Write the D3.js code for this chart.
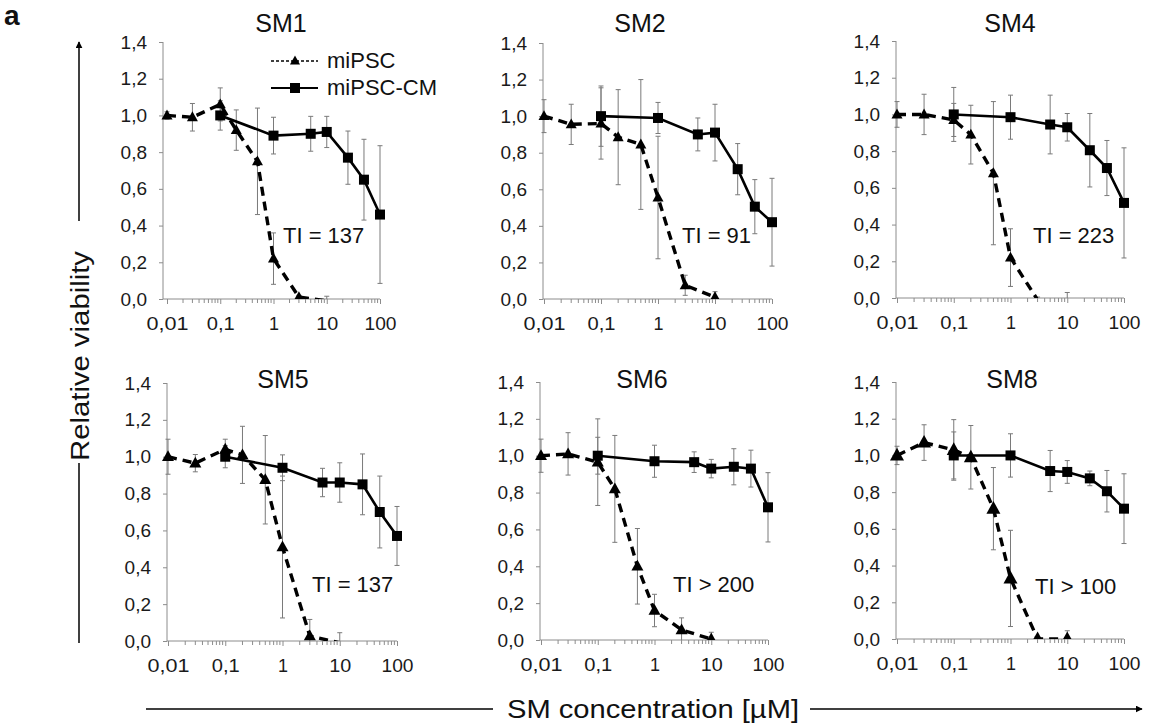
<!DOCTYPE html>
<html><head><meta charset="utf-8">
<script src="https://cdn.jsdelivr.net/npm/d3@7"></script>
<style>body{margin:0;background:#fff;} svg{display:block;font-family:"Liberation Sans",Arial,sans-serif;}</style>
</head><body><svg id="c" width="1153" height="725"></svg>
<script>
// ---------- DATA ----------
const concIpsc = [0.01, 0.03, 0.1, 0.2, 0.5, 1, 3, 10];   // miPSC concentrations (µM)
const concCm   = [0.1, 1, 5, 10, 25, 50, 100];            // miPSC-CM concentrations (µM)
const panelNames = ["SM1", "SM2", "SM4", "SM5", "SM6", "SM8"];
const tiLabels   = ["TI = 137", "TI = 91", "TI = 223", "TI = 137", "TI > 200", "TI > 100"];
const seriesNames = ["miPSC", "miPSC-CM"];

const sm1Ipsc    = [1.00, 0.99, 1.06, 0.92, 0.75, 0.22, 0.01, -0.01];
const sm1IpscErr = [0.02, 0.075, 0.09, 0.11, 0.29, 0.14, 0.01, 0.025];
const sm1Cm      = [1.00, 0.89, 0.90, 0.91, 0.77, 0.65, 0.46];
const sm1CmErr   = [0.08, 0.10, 0.095, 0.085, 0.145, 0.22, 0.375];

const sm2Ipsc    = [1.00, 0.955, 0.96, 0.885, 0.845, 0.555, 0.075, 0.01];
const sm2IpscErr = [0.09, 0.11, 0.195, 0.26, 0.355, 0.335, 0.055, 0.03];
const sm2Cm      = [1.00, 0.99, 0.90, 0.91, 0.71, 0.505, 0.42];
const sm2CmErr   = [0.165, 0.085, 0.09, 0.155, 0.14, 0.148, 0.24];

const sm4Ipsc    = [1.00, 1.00, 0.97, 0.89, 0.68, 0.22, -0.01, -0.02];
const sm4IpscErr = [0.07, 0.11, 0.09, 0.16, 0.39, 0.157, 0.015, 0.05];
const sm4Cm      = [1.00, 0.985, 0.945, 0.93, 0.805, 0.708, 0.518];
const sm4CmErr   = [0.147, 0.12, 0.16, 0.075, 0.2, 0.15, 0.3];

const sm5Ipsc    = [1.00, 0.965, 1.04, 1.01, 0.875, 0.51, 0.027, -0.01];
const sm5IpscErr = [0.095, 0.047, 0.055, 0.155, 0.24, 0.385, 0.09, 0.055];
const sm5Cm      = [1.00, 0.94, 0.86, 0.86, 0.85, 0.70, 0.57];
const sm5CmErr   = [0.06, 0.07, 0.077, 0.107, 0.165, 0.195, 0.16];

const sm6Ipsc    = [1.00, 1.01, 0.965, 0.82, 0.40, 0.16, 0.055, 0.005];
const sm6IpscErr = [0.09, 0.115, 0.235, 0.29, 0.205, 0.088, 0.065, 0.037];
const sm6Cm      = [1.00, 0.97, 0.965, 0.93, 0.94, 0.93, 0.72];
const sm6CmErr   = [0.10, 0.087, 0.056, 0.05, 0.098, 0.10, 0.188];

const sm8Ipsc    = [1.00, 1.07, 1.03, 0.99, 0.71, 0.33, 0.0, 0.0];
const sm8IpscErr = [0.05, 0.097, 0.165, 0.173, 0.224, 0.262, 0.005, 0.045];
const sm8Cm      = [1.00, 1.00, 0.915, 0.91, 0.875, 0.805, 0.71];
const sm8CmErr   = [0.128, 0.118, 0.112, 0.062, 0.04, 0.113, 0.19];

const yTicks      = [0, 0.2, 0.4, 0.6, 0.8, 1.0, 1.2, 1.4];
const yTickLabels = ["0,0", "0,2", "0,4", "0,6", "0,8", "1,0", "1,2", "1,4"];
const xTicks      = [0.01, 0.1, 1, 10, 100];
const xTickLabels = ["0,01", "0,1", "1", "10", "100"];

const ipscSets = [sm1Ipsc, sm2Ipsc, sm4Ipsc, sm5Ipsc, sm6Ipsc, sm8Ipsc];
const ipscErrs = [sm1IpscErr, sm2IpscErr, sm4IpscErr, sm5IpscErr, sm6IpscErr, sm8IpscErr];
const cmSets   = [sm1Cm, sm2Cm, sm4Cm, sm5Cm, sm6Cm, sm8Cm];
const cmErrs   = [sm1CmErr, sm2CmErr, sm4CmErr, sm5CmErr, sm6CmErr, sm8CmErr];

// ---------- LAYOUT ----------
const layout = [
  {x0:167, x1:380, yTop:42, yBot:299, axisOff:4, titleX:281, titleY:32, tiX:283, tiY:243, tri:11},
  {x0:544, x1:772, yTop:43, yBot:299, axisOff:1, titleX:640, titleY:32, tiX:682, tiY:243, tri:11},
  {x0:897, x1:1124, yTop:41, yBot:298, axisOff:1, titleX:1010, titleY:32, tiX:1033, tiY:243, tri:11},
  {x0:168, x1:397, yTop:383, yBot:641, axisOff:1, titleX:283, titleY:388, tiX:312, tiY:592, tri:12},
  {x0:541, x1:768, yTop:382, yBot:640, axisOff:1, titleX:642, titleY:388, tiX:673, tiY:592, tri:12},
  {x0:897, x1:1124, yTop:382, yBot:639, axisOff:1, titleX:1012, titleY:388, tiX:1035, tiY:594, tri:14}
];

const svg = d3.select("#c");
const axisCol = "#8c8c8c", errCol = "#7a7a7a";
const FONT = "Liberation Sans, Arial, sans-serif";

function triPath(s){ const h = s*0.9; return `M0,${-h*0.6}L${s/2},${h*0.4}L${-s/2},${h*0.4}Z`; }

panelNames.forEach((name, i) => {
  const L = layout[i];
  const x = d3.scaleLog().domain([0.01, 100]).range([L.x0, L.x1]);
  const y = d3.scaleLinear().domain([0, 1.4]).range([L.yBot, L.yTop]);
  const g = svg.append("g");
  const axX = L.x0 - L.axisOff;

  const cid = "clip" + i;
  svg.append("clipPath").attr("id", cid).append("rect")
    .attr("x", L.x0 - 30).attr("y", L.yTop - 60).attr("width", L.x1 - L.x0 + 60).attr("height", L.yBot - L.yTop + 60);

  // y axis
  const yAxis = d3.axisLeft(y).tickValues(yTicks).tickFormat((d, k) => yTickLabels[k]).tickSize(4).tickPadding(12);
  const ya = g.append("g").attr("transform", `translate(${axX},0)`).call(yAxis);
  ya.select(".domain").attr("stroke", axisCol).attr("d", `M0,${L.yTop}V${L.yBot}`);
  ya.selectAll(".tick line").attr("stroke", axisCol);
  ya.selectAll(".tick text").attr("font-size", 19).attr("fill", "#1a1a1a").attr("font-family", FONT);

  // x axis with minor ticks
  const minors = [];
  for (let dec = 0.01; dec < 100; dec *= 10) for (let m = 2; m <= 9; m++) minors.push(dec * m);
  const xa = g.append("g").attr("transform", `translate(0,${L.yBot})`);
  xa.append("path").attr("d", `M${axX},0H${L.x1}`).attr("stroke", axisCol).attr("fill", "none");
  xa.selectAll("line.minor").data(minors).join("line").attr("class", "minor")
    .attr("x1", d => x(d)).attr("x2", d => x(d)).attr("y1", 0).attr("y2", 4).attr("stroke", axisCol);
  const xAxis = d3.axisBottom(x).tickValues(xTicks).tickFormat((d, k) => xTickLabels[k]).tickSize(5).tickPadding(13);
  const xg = xa.append("g").call(xAxis);
  xg.select(".domain").remove();
  xg.selectAll(".tick line").attr("stroke", axisCol);
  xg.selectAll(".tick text").attr("font-size", 19).attr("fill", "#1a1a1a").attr("font-family", FONT)
    .attr("textLength", (d, k) => [42, 28, 10, 22, 32][k]).attr("lengthAdjust", "spacingAndGlyphs");

  // title
  g.append("text").attr("x", L.titleX).attr("y", L.titleY).attr("text-anchor", "middle")
    .attr("font-size", 25).attr("fill", "#111").text(name);
  // TI label
  g.append("text").attr("x", L.tiX).attr("y", L.tiY).attr("font-size", 22).attr("fill", "#111").text(tiLabels[i]);

  const dA = concIpsc.map((c, k) => ({c, v: ipscSets[i][k], e: ipscErrs[i][k]}));
  const dB = concCm.map((c, k) => ({c, v: cmSets[i][k], e: cmErrs[i][k]}));
  const pg = g.append("g").attr("clip-path", `url(#${cid})`);

  // error bars
  [dA, dB].forEach(ds => {
    const eb = pg.append("g").attr("stroke", errCol).attr("stroke-width", 1);
    ds.forEach(d => {
      const cx = x(d.c), t = y(d.v + d.e), b = y(d.v - d.e);
      eb.append("line").attr("x1", cx).attr("x2", cx).attr("y1", t).attr("y2", b);
      eb.append("line").attr("x1", cx - 2.5).attr("x2", cx + 2.5).attr("y1", t).attr("y2", t);
      eb.append("line").attr("x1", cx - 2.5).attr("x2", cx + 2.5).attr("y1", b).attr("y2", b);
    });
  });

  const line = d3.line().x(d => x(d.c)).y(d => y(d.v));
  pg.append("path").datum(dB).attr("d", line).attr("fill", "none").attr("stroke", "#000").attr("stroke-width", 2.6);
  pg.append("path").datum(dA).attr("d", line).attr("fill", "none").attr("stroke", "#000").attr("stroke-width", 3.4)
    .attr("stroke-dasharray", "9,6");

  pg.selectAll("rect.m").data(dB).join("rect").attr("class", "m")
    .attr("x", d => x(d.c) - 5).attr("y", d => y(d.v) - 5).attr("width", 10).attr("height", 10).attr("fill", "#000");
  pg.selectAll("path.t").data(dA.filter(d => d.v >= 0)).join("path").attr("class", "t")
    .attr("d", triPath(L.tri)).attr("transform", d => `translate(${x(d.c)},${y(d.v)})`).attr("fill", "#000");

  // legend (first panel only)
  if (i === 0) {
    const lg = g.append("g");
    const lx1 = 271, lx2 = 318, lxm = 295;
    const ly = [61, 88];
    lg.append("line").attr("x1", lx1).attr("x2", lx2).attr("y1", ly[0]).attr("y2", ly[0])
      .attr("stroke", "#000").attr("stroke-width", 1.5).attr("stroke-dasharray", "3,2");
    lg.append("path").attr("d", triPath(10)).attr("transform", `translate(${lxm},${ly[0]})`).attr("fill", "#000");
    lg.append("line").attr("x1", lx1).attr("x2", lx2).attr("y1", ly[1]).attr("y2", ly[1])
      .attr("stroke", "#000").attr("stroke-width", 2);
    lg.append("rect").attr("x", lxm - 5).attr("y", ly[1] - 5).attr("width", 10).attr("height", 10).attr("fill", "#000");
    lg.selectAll("text").data(seriesNames).join("text").attr("x", 327).attr("y", (d, k) => ly[k] + 7)
      .attr("font-size", 22).attr("fill", "#111").text(d => d);
  }
});

// panel letter
svg.append("text").attr("x", 4).attr("y", 25).attr("font-size", 28).attr("font-weight", "bold").attr("fill", "#111").text("a");

// arrow marker
const defs = svg.append("defs");
defs.append("marker").attr("id", "arr").attr("viewBox", "0 0 10 10").attr("refX", 9).attr("refY", 5)
  .attr("markerWidth", 7).attr("markerHeight", 7).attr("markerUnits", "userSpaceOnUse").attr("orient", "auto")
  .append("path").attr("d", "M0,0L10,5L0,10Z").attr("fill", "#000");

// y axis label with arrow
svg.append("line").attr("x1", 79).attr("x2", 79).attr("y1", 221).attr("y2", 42).attr("stroke", "#000").attr("stroke-width", 1.5).attr("marker-end", "url(#arr)");
svg.append("line").attr("x1", 79).attr("x2", 79).attr("y1", 463).attr("y2", 643).attr("stroke", "#000").attr("stroke-width", 1.5);
svg.append("text").attr("transform", "translate(89,356) rotate(-90)").attr("text-anchor", "middle")
  .attr("font-size", 26).attr("fill", "#111").attr("textLength", 210).attr("lengthAdjust", "spacingAndGlyphs").text("Relative viability");

// x axis label with arrow
svg.append("line").attr("x1", 146).attr("x2", 493).attr("y1", 709).attr("y2", 709).attr("stroke", "#000").attr("stroke-width", 1.5);
svg.append("line").attr("x1", 810).attr("x2", 1142).attr("y1", 709).attr("y2", 709).attr("stroke", "#000").attr("stroke-width", 1.5).attr("marker-end", "url(#arr)");
svg.append("text").attr("x", 653).attr("y", 718).attr("text-anchor", "middle").attr("font-size", 25).attr("fill", "#111")
  .attr("textLength", 292).attr("lengthAdjust", "spacingAndGlyphs").text("SM concentration [µM]");
</script></body></html>
